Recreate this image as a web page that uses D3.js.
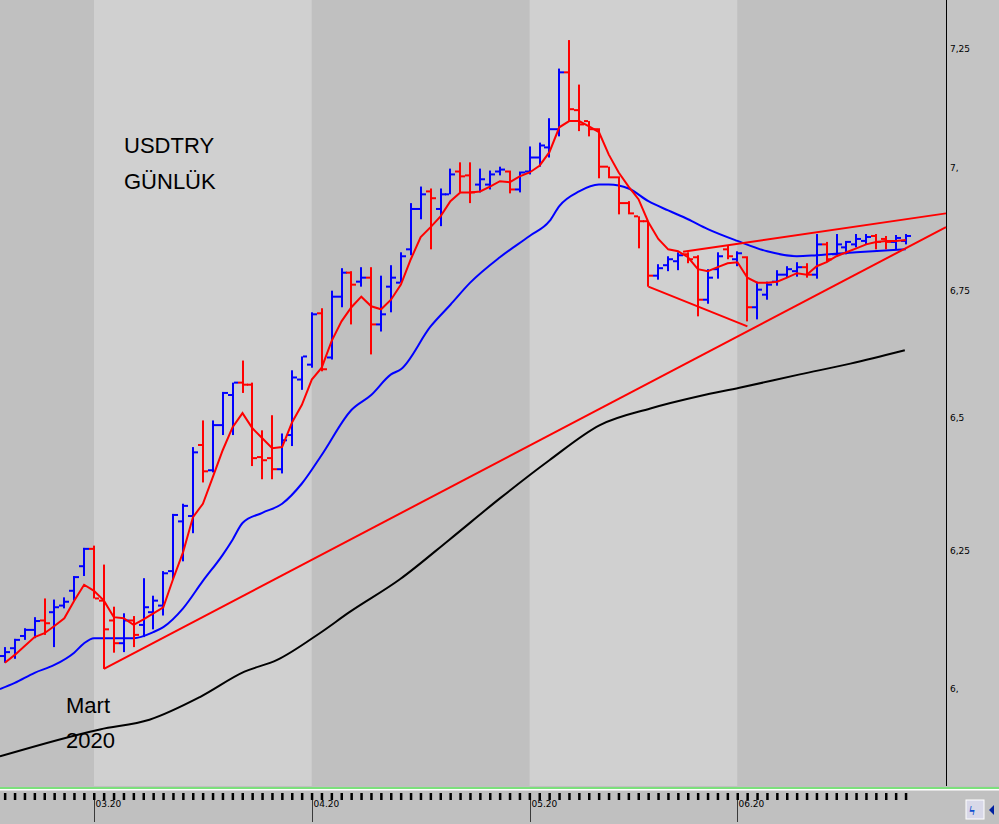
<!DOCTYPE html>
<html><head><meta charset="utf-8">
<script src="https://cdn.jsdelivr.net/npm/d3@7/dist/d3.min.js"></script>
<style>body{margin:0;background:#c0c0c0}svg{display:block}</style>
</head><body><svg id="c" width="999" height="824"></svg>
<script>
const opens=[6.057,6.071,6.093,6.104,6.121,6.136,6.148,6.175,6.220,6.252,6.157,6.121,6.080,6.121,6.113,6.136,6.148,6.211,6.303,6.313,6.447,6.399,6.485,6.543,6.567,6.563,6.424,6.422,6.401,6.466,6.573,6.602,6.703,6.616,6.736,6.784,6.766,6.774,6.681,6.756,6.764,6.831,6.913,6.949,6.913,6.943,6.990,6.982,6.963,6.963,6.990,6.990,6.953,6.990,7.019,7.040,7.078,7.198,7.118,7.095,7.078,7.000,6.978,6.925,6.898,6.888,6.778,6.799,6.807,6.821,6.815,6.730,6.791,6.831,6.811,6.815,6.715,6.740,6.766,6.780,6.787,6.795,6.780,6.841,6.821,6.835,6.841,6.848,6.858,6.852,6.846,6.848];
const highs=[6.073,6.088,6.107,6.127,6.161,6.159,6.163,6.202,6.254,6.258,6.223,6.146,6.134,6.129,6.198,6.166,6.211,6.317,6.336,6.443,6.494,6.494,6.549,6.567,6.610,6.567,6.475,6.504,6.469,6.591,6.618,6.705,6.713,6.748,6.793,6.787,6.795,6.795,6.778,6.799,6.825,6.925,6.959,6.955,6.955,6.996,7.009,7.009,6.996,6.992,7.000,6.992,6.990,7.042,7.050,7.101,7.206,7.267,7.172,7.095,7.080,7.000,6.980,6.929,6.898,6.888,6.801,6.817,6.825,6.825,6.819,6.791,6.825,6.839,6.827,6.817,6.766,6.766,6.789,6.797,6.805,6.803,6.862,6.846,6.862,6.848,6.862,6.862,6.862,6.858,6.860,6.862];
const lows=[6.045,6.052,6.086,6.089,6.095,6.073,6.143,6.157,6.202,6.161,6.034,6.063,6.064,6.073,6.091,6.105,6.130,6.196,6.229,6.281,6.376,6.395,6.466,6.466,6.547,6.407,6.382,6.382,6.393,6.445,6.553,6.596,6.589,6.612,6.715,6.681,6.756,6.622,6.667,6.705,6.764,6.819,6.892,6.831,6.878,6.943,6.947,6.925,6.947,6.953,6.982,6.945,6.947,6.984,7.000,7.019,7.063,7.095,7.074,7.063,6.976,6.976,6.902,6.902,6.833,6.756,6.770,6.787,6.789,6.803,6.697,6.722,6.772,6.811,6.797,6.687,6.691,6.730,6.758,6.774,6.776,6.774,6.772,6.805,6.819,6.821,6.835,6.841,6.831,6.831,6.831,6.841];
const closes=[6.064,6.086,6.104,6.120,6.116,6.145,6.155,6.200,6.252,6.161,6.105,6.080,6.121,6.095,6.145,6.157,6.207,6.315,6.332,6.433,6.397,6.485,6.547,6.567,6.563,6.422,6.418,6.401,6.456,6.577,6.618,6.701,6.593,6.736,6.784,6.760,6.774,6.681,6.701,6.774,6.817,6.913,6.943,6.935,6.943,6.984,6.980,6.947,6.974,6.984,6.994,6.953,6.988,7.019,7.044,7.078,7.198,7.120,7.088,7.078,7.000,6.978,6.925,6.904,6.888,6.778,6.793,6.811,6.819,6.811,6.730,6.774,6.817,6.817,6.823,6.715,6.750,6.760,6.780,6.791,6.795,6.780,6.841,6.811,6.841,6.846,6.852,6.856,6.846,6.846,6.854,6.858];
const maFast=[6.045,6.059,6.075,6.091,6.098,6.111,6.125,6.157,6.186,6.175,6.157,6.127,6.125,6.113,6.123,6.134,6.145,6.197,6.246,6.311,6.336,6.386,6.437,6.481,6.508,6.479,6.460,6.441,6.443,6.490,6.524,6.573,6.596,6.648,6.687,6.715,6.736,6.717,6.711,6.730,6.760,6.811,6.856,6.876,6.898,6.929,6.947,6.947,6.949,6.959,6.970,6.968,6.980,6.988,7.002,7.030,7.082,7.095,7.095,7.084,7.072,7.025,6.988,6.959,6.933,6.886,6.852,6.831,6.827,6.815,6.791,6.787,6.795,6.803,6.805,6.774,6.764,6.764,6.766,6.774,6.783,6.780,6.797,6.805,6.817,6.825,6.833,6.841,6.846,6.848,6.848,6.850];
const maMidIdx=[-0.5,1,3,5,7,8,9,13,15,16,18,20,22,23,24,26,28,30,32,35,37,39,40,43,45,47,50,53,55,56,58,60,61,63,65,67,69,71,74,77,80,82,86,91];
const maMid=[5.998,6.009,6.027,6.041,6.063,6.080,6.089,6.089,6.100,6.109,6.143,6.193,6.241,6.269,6.300,6.319,6.336,6.374,6.428,6.514,6.543,6.583,6.593,6.677,6.720,6.764,6.815,6.858,6.888,6.919,6.949,6.963,6.963,6.955,6.929,6.910,6.892,6.872,6.848,6.827,6.817,6.819,6.825,6.831];
const maSlowIdx=[-0.5,9.6,14.6,19.7,24.2,27.5,31.8,34.8,39.9,44.9,50,55,60.1,65.2,70.2,74.2,80.3,85.4,90.9];
const maSlow=[5.880,5.927,5.944,5.984,6.029,6.050,6.098,6.136,6.196,6.269,6.346,6.418,6.485,6.517,6.541,6.557,6.583,6.604,6.630];
const trendLines=[[[10,6.034],[95.06,6.876]],[[68.5,6.826],[95.06,6.904]],[[65,6.756],[75,6.677]]];
const monthIdx=[9,31,53,74];
const monthLabels=["03.20","04.20","05.20","06.20"];
const yTicks=[7.25,7,6.75,6.5,6.25,6];
const yTickLabels=["7,25","7,","6,75","6,5","6,25","6,"];

const svg=d3.select("#c");
const x=d3.scaleLinear().domain([0,91]).range([4.9,905.8]);
const y=d3.scaleLog().domain([6,7.25]).range([688,48]);
const plotR=946, plotB=786;
const bounds=[x(-1),...monthIdx.map(x),plotR];
for(let k=0;k<bounds.length-1;k++){
  svg.append("rect").attr("x",Math.max(0,bounds[k])).attr("y",0).attr("width",bounds[k+1]-Math.max(0,bounds[k])).attr("height",plotB)
   .attr("fill",k%2===0?"#c0c0c0":"#d0d0d0");
}
svg.append("rect").attr("x",plotR).attr("y",0).attr("width",999-plotR).attr("height",plotB).attr("fill","#c4c4c4");
svg.append("line").attr("x1",plotR+0.5).attr("x2",plotR+0.5).attr("y1",0).attr("y2",plotB).attr("stroke","#000");
svg.selectAll(".yt").data(yTicks).enter().append("text").attr("x",950).attr("y",d=>y(d)+4)
 .attr("font-family","DejaVu Sans").attr("font-size",9).attr("fill","#000").text((d,i)=>yTickLabels[i]);
svg.append("rect").attr("x",0).attr("y",787).attr("width",999).attr("height",2).attr("fill","#7ce07c");
svg.append("rect").attr("x",0).attr("y",789).attr("width",999).attr("height",1.5).attr("fill","#fff");
svg.append("rect").attr("x",0).attr("y",791).attr("width",999).attr("height",33).attr("fill","#c0c0c0");
svg.selectAll(".bt").data(d3.range(0,92)).enter().append("rect").attr("x",d=>x(d)-1).attr("y",793).attr("width",2.5).attr("height",7).attr("fill","#000");
monthIdx.forEach((m,i)=>{
  const xx=Math.round(x(m))+0.5;
  svg.append("line").attr("x1",xx).attr("x2",xx).attr("y1",793).attr("y2",822).attr("stroke","#000").attr("stroke-width",0.7);
  svg.append("text").attr("x",xx+1).attr("y",807).attr("font-family","DejaVu Sans").attr("font-size",9).text(monthLabels[i]);
});
svg.append("rect").attr("x",966).attr("y",800).attr("width",18).attr("height",19).attr("fill","#d8d8e8").attr("stroke","#fff");
svg.append("text").attr("x",969).attr("y",815).attr("font-size",13).attr("fill","#1050d0").attr("font-weight","bold").text("ϟ");
svg.append("path").attr("d","M994,805 L989,810 L994,815Z").attr("fill","#0020a0");
const ln=d3.line().x(d=>x(d[0])).y(d=>y(d[1])).curve(d3.curveMonotoneX);
svg.append("path").attr("d",ln(maSlowIdx.map((d,i)=>[d,maSlow[i]]))).attr("fill","none").attr("stroke","#000").attr("stroke-width",2);
svg.append("path").attr("d",ln(maMidIdx.map((d,i)=>[d,maMid[i]]))).attr("fill","none").attr("stroke","#0000ff").attr("stroke-width",2);
trendLines.forEach(t=>svg.append("line").attr("x1",x(t[0][0])).attr("y1",y(t[0][1])).attr("x2",x(t[1][0])).attr("y2",y(t[1][1])).attr("stroke","#ff0000").attr("stroke-width",2));
const g=svg.append("g");
opens.forEach((o,i)=>{
  const c=closes[i]>=o?"#0000ff":"#ff0000";
  const xx=Math.round(x(i));
  g.append("rect").attr("x",xx-1).attr("y",y(highs[i])).attr("width",2).attr("height",Math.max(2,y(lows[i])-y(highs[i]))).attr("fill",c);
  g.append("rect").attr("x",xx-5).attr("y",y(o)-1).attr("width",4).attr("height",2).attr("fill",c);
  g.append("rect").attr("x",xx+1).attr("y",y(closes[i])-1).attr("width",4).attr("height",2).attr("fill",c);
});
svg.append("path").attr("d",d3.line().x((d,i)=>x(i)).y(d=>y(d))(maFast)).attr("fill","none").attr("stroke","#ff0000").attr("stroke-width",2);
const T=(t,xx,yy)=>svg.append("text").attr("x",xx).attr("y",yy).attr("font-family","Liberation Sans, Arial").attr("font-size",22).attr("fill","#000").text(t);
T("USDTRY",124,153);T("GÜNLÜK",124,189);T("Mart",66,713);T("2020",66,748);
</script></body></html>
